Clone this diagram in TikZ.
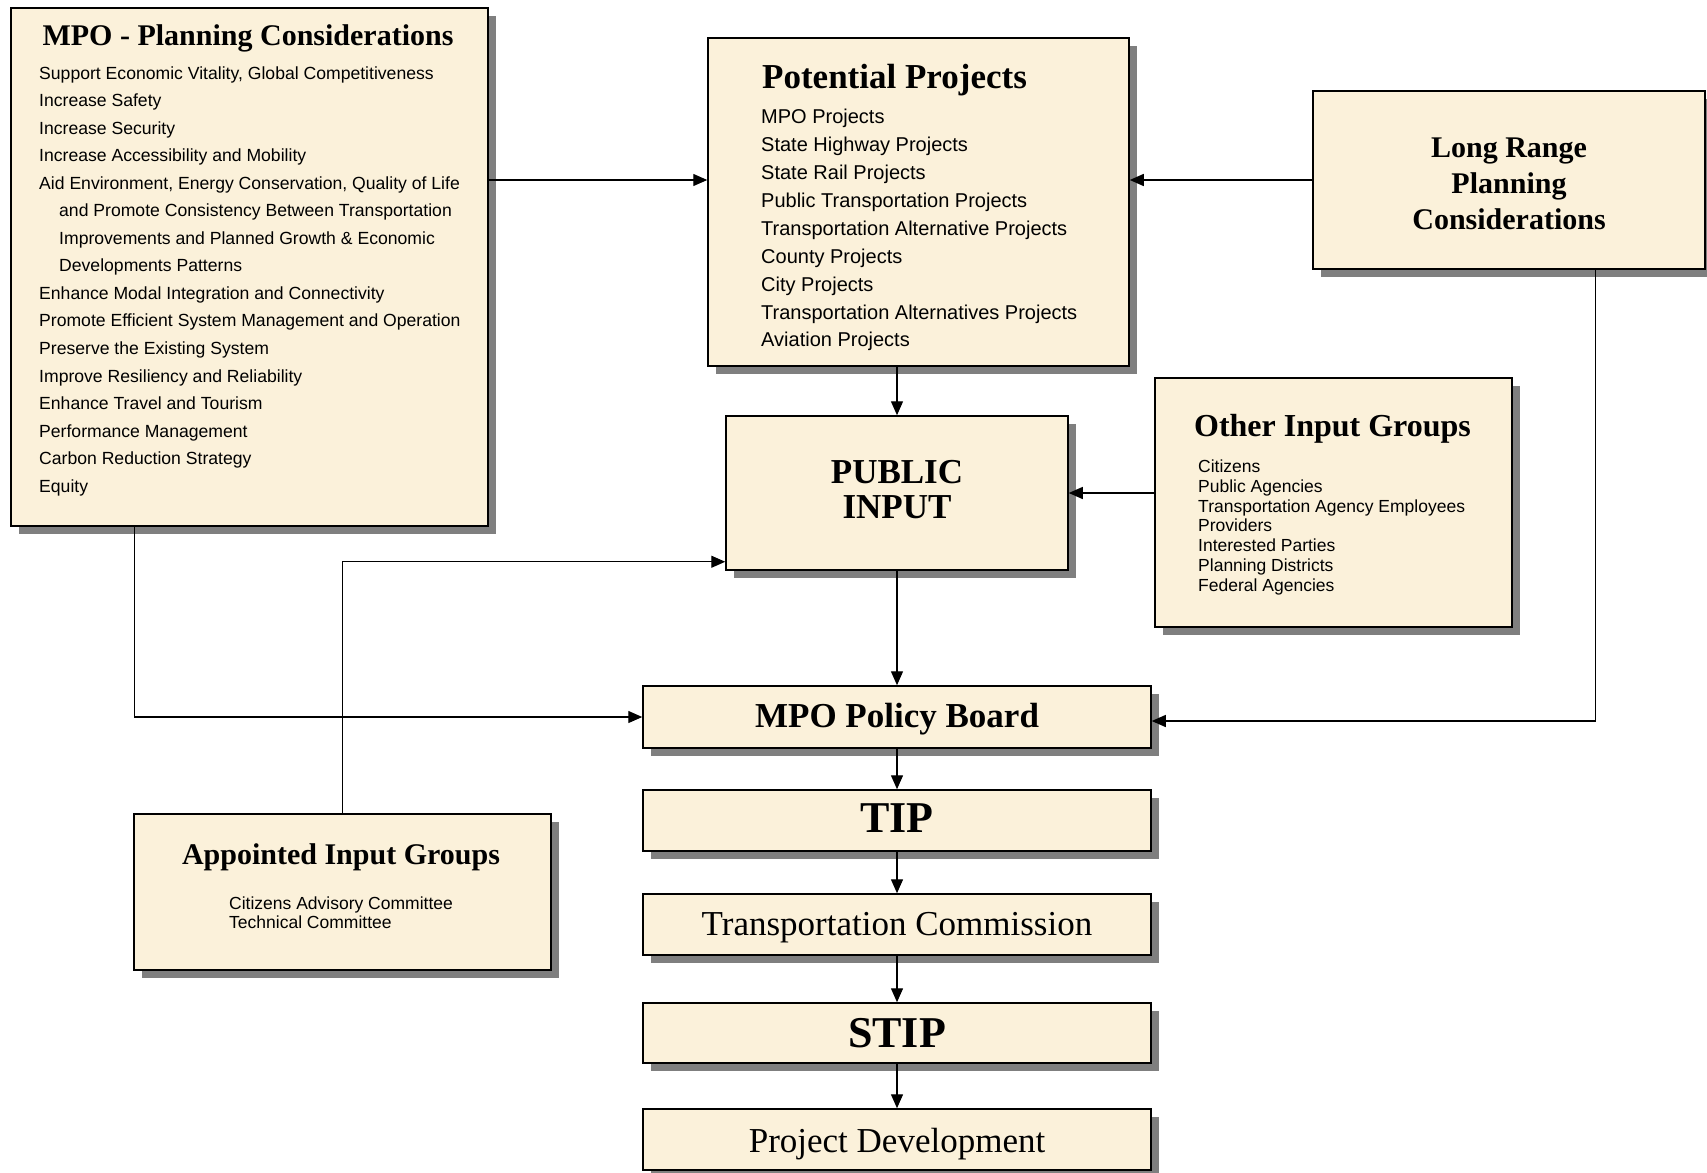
\documentclass[tikz,border=0pt]{standalone}
\usepackage{fontspec}
\setmainfont{Liberation Serif}
\newfontfamily\arialf{Liberation Sans}
\usetikzlibrary{arrows.meta,shadows,calc}
\definecolor{parch}{HTML}{FBF1DA}
\definecolor{shad}{HTML}{7F7F7F}
\begin{document}
\begin{tikzpicture}[x=1pt,y=-1pt,
  box/.style={rectangle, draw=black, line width=1.5pt, fill=parch, inner sep=0pt,
     drop shadow={shadow xshift=8pt, shadow yshift=-8pt, fill=shad, opacity=1}},
  arr/.style={draw=black, line width=1.3pt, -{Triangle[length=14pt,width=12pt]}},
  ttl/.style={inner sep=0pt, anchor=base},
  lst/.style={inner sep=0pt, anchor=north west, align=left},
  bigb/.style={font=\bfseries\fontsize{35}{35}\selectfont, align=center},
  hugeb/.style={font=\bfseries\fontsize{44}{44}\selectfont},
  bigr/.style={font=\fontsize{35}{35}\selectfont}
]
\useasboundingbox[fill=white] (0,0) rectangle (1707,1172);

% boxes
\node[box, minimum width=477pt, minimum height=518pt] (mpo) at (249.5,267) {};
\node[box, minimum width=421pt, minimum height=328pt] (pp) at (918.5,202) {};
\node[box, minimum width=392pt, minimum height=178pt, align=center,
      font=\bfseries\fontsize{30}{36}\selectfont] (lr) at (1509,180)
      {\rule{0pt}{27pt}Long Range\\Planning\\Considerations};
\node[box, minimum width=357pt, minimum height=249pt] (oig) at (1333.5,502.5) {};
\node[box, minimum width=342pt, minimum height=154pt, bigb] (pi) at (897,493)
      {PUBLIC\\INPUT\rule[-7.6pt]{0pt}{7.6pt}};
\node[box, minimum width=508pt, minimum height=62pt, bigb] (mpb) at (897,717)
      {\rule{0pt}{28.5pt}MPO Policy Board};
\node[box, minimum width=508pt, minimum height=61pt, hugeb] (tip) at (897,820.5)
      {TIP\rule[-4.4pt]{0pt}{4.4pt}};
\node[box, minimum width=508pt, minimum height=61pt, bigr] (tc) at (897,924.5)
      {\rule{0pt}{28.5pt}Transportation Commission};
\node[box, minimum width=508pt, minimum height=60pt, hugeb] (stip) at (897,1033) {STIP};
\node[box, minimum width=508pt, minimum height=61pt, bigr] (pd) at (897,1139.5)
      {\rule{0pt}{33pt}Project Development};
\node[box, minimum width=417pt, minimum height=156pt] (aig) at (342.5,892) {};

% titles
\node[ttl, font=\bfseries\fontsize{30}{30}\selectfont] (mpot) at (248,46) {MPO - Planning Considerations};
\node[ttl, font=\bfseries\fontsize{35}{35}\selectfont] (ppt) at (894.5,88.5) {Potential Projects};
\node[ttl, font=\bfseries\fontsize{32}{32}\selectfont] (oigt) at (1332.5,436) {Other Input Groups};
\node[ttl, font=\bfseries\fontsize{30}{30}\selectfont] (aigt) at (341,864) {Appointed Input Groups};

% lists
\node[lst, font=\arialf\fontsize{17.6}{27.53}\selectfont] (mpol) at (39,59.7)
 {\strut Support Economic Vitality, Global Competitiveness\\
  Increase Safety\\
  Increase Security\\
  Increase Accessibility and Mobility\\
  Aid Environment, Energy Conservation, Quality of Life\\
  \hspace*{20pt}and Promote Consistency Between Transportation\\
  \hspace*{20pt}Improvements and Planned Growth \& Economic\\
  \hspace*{20pt}Developments Patterns\\
  Enhance Modal Integration and  Connectivity\\
  Promote Efficient System Management and Operation\\
  Preserve the Existing System\\
  Improve Resiliency and Reliability\\
  Enhance Travel and Tourism\\
  Performance Management\\
  Carbon Reduction Strategy\\
  Equity};
\node[lst, font=\arialf\fontsize{20}{27.9}\selectfont] (ppl) at (761,104)
 {\strut MPO Projects\\
  State Highway Projects\\
  State Rail Projects\\
  Public Transportation Projects\\
  Transportation Alternative Projects\\
  County Projects\\
  City Projects\\
  Transportation Alternatives Projects\\
  Aviation Projects};
\node[lst, font=\arialf\fontsize{17.5}{19.83}\selectfont] (oigl) at (1198,458.4)
 {\strut Citizens\\
  Public Agencies\\
  Transportation Agency Employees\\
  Providers\\
  Interested Parties\\
  Planning Districts\\
  Federal Agencies};
\node[lst, font=\arialf\fontsize{17.5}{19}\selectfont] (aigl) at (229,896)
 {\strut Citizens Advisory Committee\\
  Technical Committee};

% connectors
\coordinate (h180) at (0,180);
\draw[arr] (mpo.east |- h180) -- (pp.west |- h180);
\draw[arr] (lr.west) -- (lr.west -| pp.east);
\draw[arr] (pi.north |- pp.south) -- (pi.north);
\draw[arr] (pi.east -| oig.west) -- (pi.east);
\draw[arr] (pi.south) -- (mpb.north);
\draw[arr] ($(mpo.south west)+(124,0)$) |- (mpb.west);
\draw[arr] ($(lr.south west)+(283,0)$) |- ($(mpb.east)+(0,4)$);
\draw[arr] (aig.north) |- ($(pi.south west)+(0,-9)$);
\draw[arr] (mpb.south) -- (tip.north);
\draw[arr] (tip.south) -- (tc.north);
\draw[arr] (tc.south) -- (stip.north);
\draw[arr] (stip.south) -- (pd.north);
\end{tikzpicture}
\end{document}
